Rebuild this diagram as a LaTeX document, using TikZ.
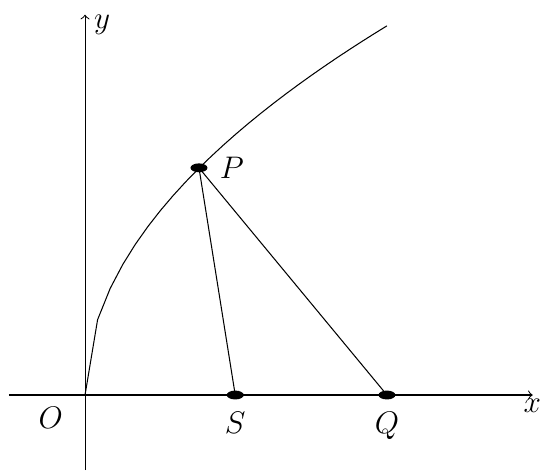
\documentclass[tikz,border=0pt]{standalone}
\usepackage{amsmath, amssymb}
\usetikzlibrary{positioning}
\usetikzlibrary{shapes.geometric}

\begin{document}
\begin{tikzpicture}[font=\large,
    dot style/.style={
        ellipse, fill=black,
        inner sep=0pt,
        minimum width=2.3mm, minimum height=1.2mm
    },
    axis/.style={->, thin},
    seg/.style={thin}
]
				\useasboundingbox (-1.149,-1.014) rectangle (6.162,5.338);
				
				\coordinate (O) at (0,0);
				\coordinate (xl) at (-1.03,0);
				\coordinate (xr) at (6.05,0);
				\coordinate (yb) at (0,-1.014);
				\coordinate (yt) at (0,5.14);
				
				\draw[axis] (xl) -- (xr);
				\draw[axis] (yb) -- (yt);
				\node[below right=-2pt and -7pt of xr] {$x$};
				\node[right=0pt of yt, yshift=-4pt] {$y$};
				\node[below left=1pt and 5pt of O] {$O$};
				
				\draw[seg] plot[domain=0:4.08, samples=25] (\x, {sqrt(6.1*\x)});
				
				\node[dot style] (P) at (1.54,3.07) {};
				\node[right=1pt of P] {$P$};
				\node[dot style] (S) at (2.03,0) {};
				\node[below=1pt of S] {$S$};
				\node[dot style] (Q) at (4.08,0) {};
				\node[below=1pt of Q] {$Q$};
				
				\draw[seg] (P.center) -- (S.center);
				\draw[seg] (P.center) -- (Q.center);
				
			\end{tikzpicture}
\end{document}
